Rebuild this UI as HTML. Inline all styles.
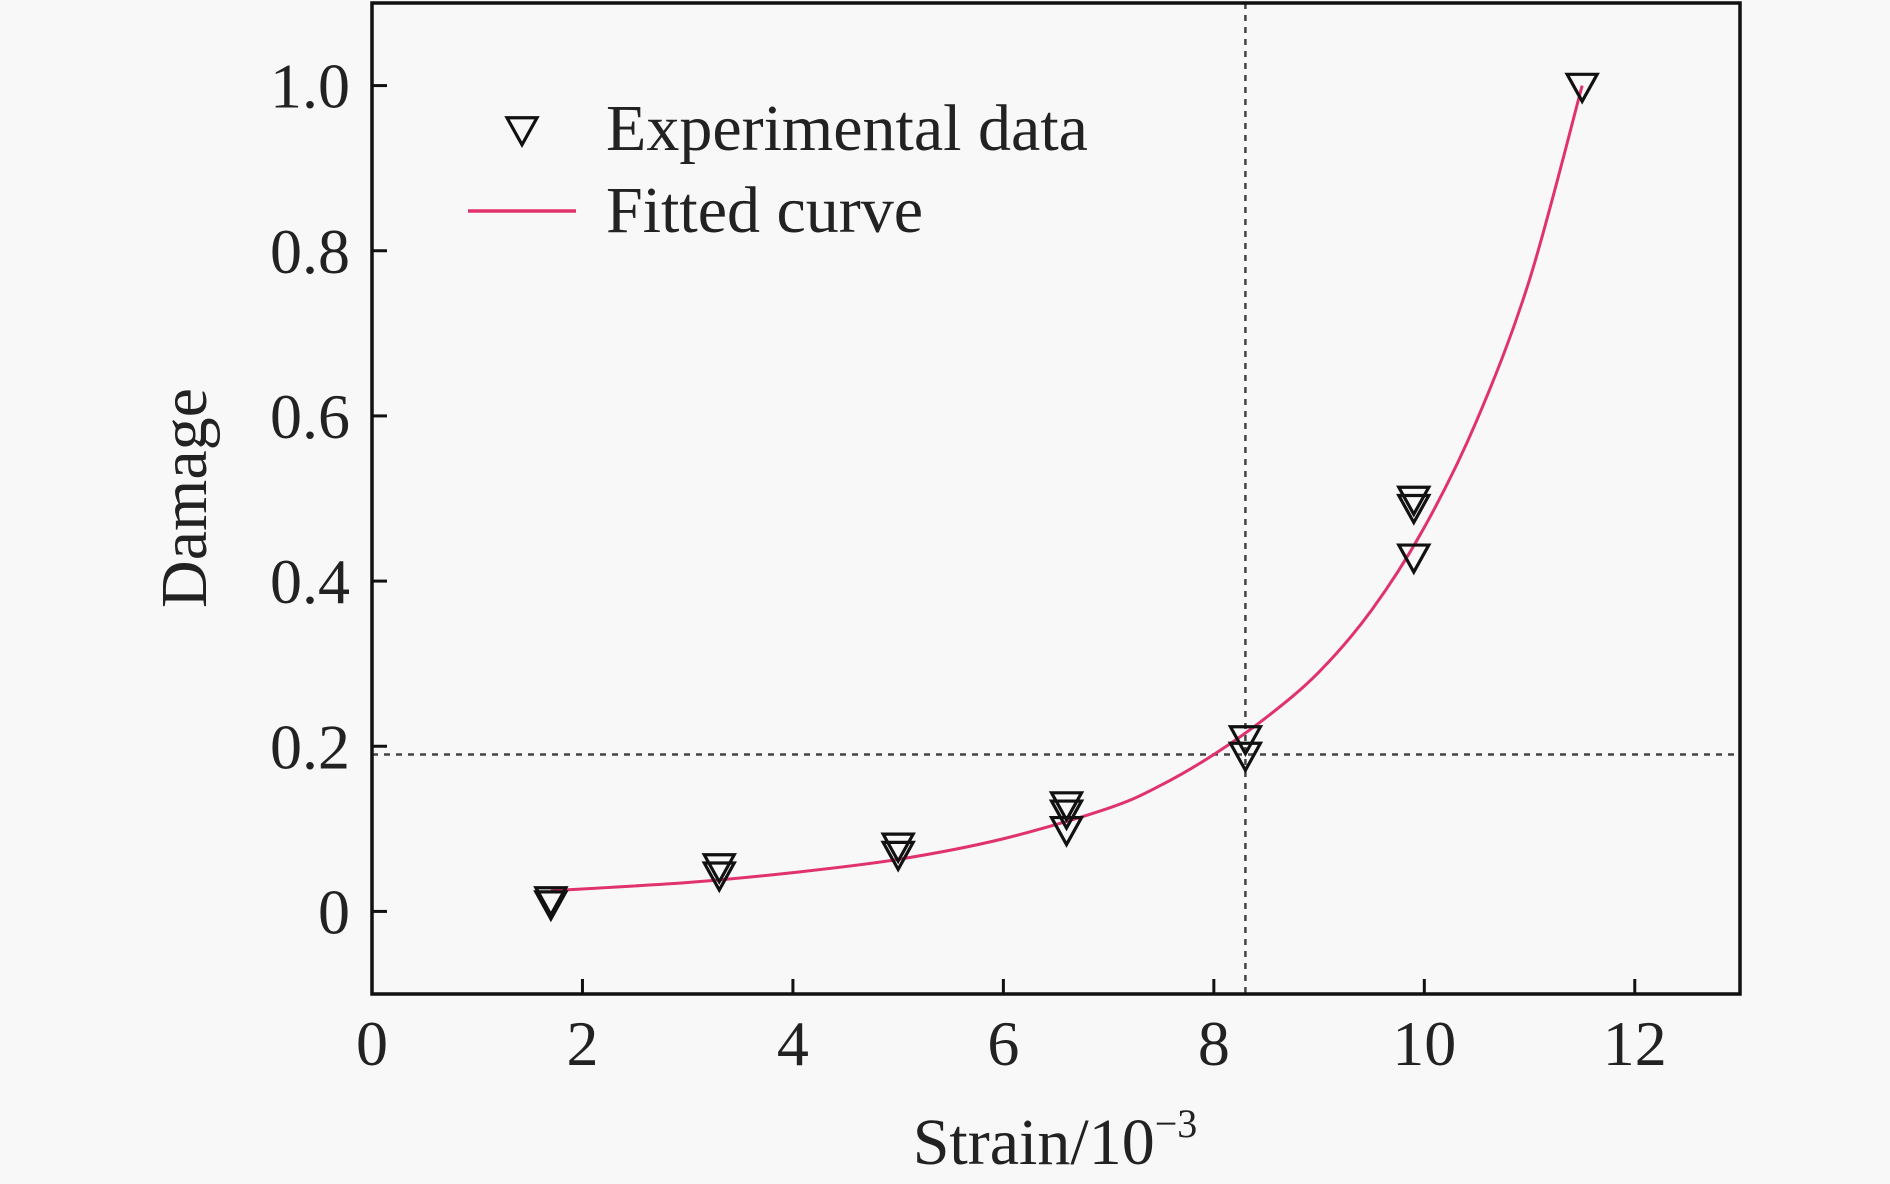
<!DOCTYPE html>
<html><head><meta charset="utf-8"><style>
html,body{margin:0;padding:0;background:#f8f8f8;}
svg{display:block;font-family:"Liberation Serif",serif;}
</style></head><body>
<svg id="chart" width="1890" height="1184" viewBox="0 0 1890 1184" xmlns="http://www.w3.org/2000/svg">
<rect width="1890" height="1184" fill="#f8f8f8"/>
<g id="plot"></g>
</svg>
<script>
const xTicks=[0,2,4,6,8,10,12];
const yTicks=[0,0.2,0.4,0.6,0.8,1.0];
const yTickLabels=["0","0.2","0.4","0.6","0.8","1.0"];
const expX=[1.7,1.7,3.3,3.3,5.0,5.0,6.6,6.6,6.6,8.3,8.3,9.9,9.9,9.9,11.5];
const expY=[0.015,0.01,0.055,0.045,0.08,0.07,0.13,0.12,0.10,0.21,0.19,0.50,0.49,0.43,1.0];
const fitX=[1.7,3,4,5,6,7,7.5,8,8.5,9,9.5,10,10.5,11,11.5];
const fitY=[0.025,0.035,0.047,0.063,0.088,0.125,0.153,0.19,0.235,0.29,0.365,0.465,0.595,0.765,1.0];
const refX=[8.3];
const refY=[0.19];

const L=372,R=1740,T=3,B=994,xMin=0,xMax=13,yMin=-0.1,yMax=1.1;
const sx=v=>L+(v-xMin)/(xMax-xMin)*(R-L);
const sy=v=>B-(v-yMin)/(yMax-yMin)*(B-T);
const NS="http://www.w3.org/2000/svg";
const g=document.getElementById('plot');
function mk(tag,attrs,parent){const e=document.createElementNS(NS,tag);for(const k in attrs)e.setAttribute(k,attrs[k]);(parent||g).appendChild(e);return e;}

refX.forEach(v=>{const e=mk('line',{x1:sx(v),x2:sx(v),y1:T,y2:B,stroke:'#444','stroke-width':2.5,'stroke-dasharray':'6,6'});

});
refY.forEach(v=>{const e=mk('line',{x1:L,x2:R,y1:sy(v),y2:sy(v),stroke:'#444','stroke-width':2.5,'stroke-dasharray':'6,6'});

});

const P=fitX.map((x,i)=>[sx(x),sy(fitY[i])]);
let d=`M${P[0][0]},${P[0][1]}`;
for(let i=0;i<P.length-1;i++){const p0=P[Math.max(0,i-1)],p1=P[i],p2=P[i+1],p3=P[Math.min(P.length-1,i+2)];
d+=` C${p1[0]+(p2[0]-p0[0])/6},${p1[1]+(p2[1]-p0[1])/6} ${p2[0]-(p3[0]-p1[0])/6},${p2[1]-(p3[1]-p1[1])/6} ${p2[0]},${p2[1]}`;}
const curve=mk('path',{d:d,fill:'none',stroke:'#e0336b','stroke-width':3});



function tri(cx,cy,s){return `${cx-s},${cy-s*0.75} ${cx+s},${cy-s*0.75} ${cx},${cy+s*1.05}`;}
expX.forEach((x,i)=>{const e=mk('polygon',{points:tri(sx(x),sy(expY[i]),15),fill:'none',stroke:'#111','stroke-width':3.2});

});

const fr=mk('rect',{x:L,y:T,width:R-L,height:B-T,fill:'none',stroke:'#111','stroke-width':3.5});



xTicks.forEach(v=>{const t=mk('line',{x1:sx(v),x2:sx(v),y1:B,y2:B-15,stroke:'#111','stroke-width':3});


const l=mk('text',{x:sx(v),y:1065,'text-anchor':'middle','font-size':64,fill:'#222'});l.textContent=v;

});
yTicks.forEach((v,i)=>{const t=mk('line',{x1:L,x2:L+15,y1:sy(v),y2:sy(v),stroke:'#111','stroke-width':3});


const l=mk('text',{x:350,y:sy(v)+22,'text-anchor':'end','font-size':64,fill:'#222'});l.textContent=yTickLabels[i];

});

const xt=mk('text',{x:1055,y:1164,'text-anchor':'middle','font-size':66,fill:'#222'});
xt.innerHTML='Strain/10<tspan font-size="40" dy="-27">−3</tspan>';


const yt=mk('text',{x:0,y:0,'text-anchor':'middle','font-size':66,fill:'#222',transform:'translate(206,498) rotate(-90)'});
yt.textContent='Damage';



const lg=mk('g',{});


const lt=mk('polygon',{points:tri(522,129,15),fill:'none',stroke:'#111','stroke-width':3.2},lg);


const l1=mk('text',{x:606,y:150,'font-size':66,fill:'#222'},lg);l1.textContent='Experimental data';


const ll=mk('line',{x1:468,x2:576,y1:211,y2:211,stroke:'#e0336b','stroke-width':3.5},lg);


const l2=mk('text',{x:606,y:232,'font-size':66,fill:'#222'},lg);l2.textContent='Fitted curve';


</script>
</body></html>
